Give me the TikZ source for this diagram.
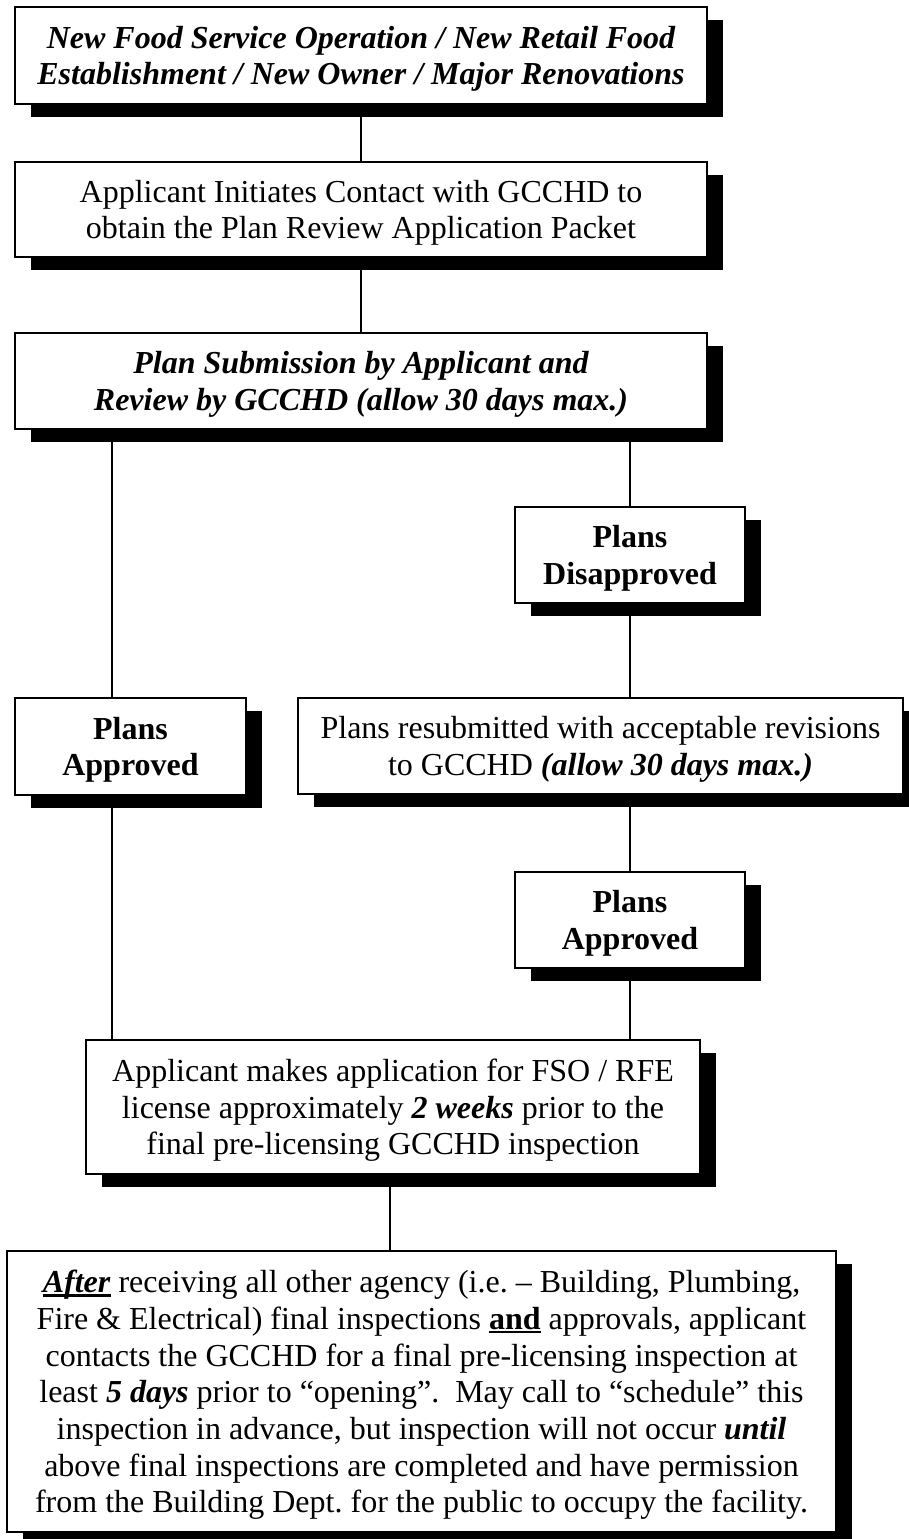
\documentclass[tikz,border=0pt]{standalone}
\usepackage{fontspec}
\setmainfont{Liberation Serif}
\usetikzlibrary{shadows}
\frenchspacing
\newcommand{\bix}[1]{\textbf{\textit{#1}}}
\newcommand{\ulx}[1]{\setbox0\hbox{#1}\rlap{\rule[-4pt]{\wd0}{2.5pt}}\box0{}}
\tikzset{
  box/.style={draw=black, line width=1.5pt, fill=white, align=center, inner sep=0pt,
    text depth=0pt,
    font=\fontsize{32}{36.7}\selectfont,
    drop shadow={shadow xshift=16pt, shadow yshift=-13pt, opacity=1, fill=black}},
  bifont/.style={font=\fontsize{32}{36.7}\selectfont\bfseries\itshape},
  bffont/.style={font=\fontsize{32}{36.7}\selectfont\bfseries},
  conn/.style={line width=2pt}
}
\begin{document}
\begin{tikzpicture}[x=1pt,y=-1pt]
\useasboundingbox (0,0) rectangle (909,1539);
\fill[white] (0,0) rectangle (909,1539);

\node[box, bifont, minimum width=692pt, minimum height=97pt] (top) at (361,55.5)
  {New Food Service Operation / New Retail Food\\Establishment / New Owner / Major Renovations};
\node[box, minimum width=692pt, minimum height=95pt] (contact) at (361,209.5)
  {Applicant Initiates Contact with GCCHD to\\obtain the Plan Review Application Packet};
\node[box, bifont, minimum width=692pt, minimum height=96pt] (submit) at (361,381)
  {Plan Submission by Applicant and\\Review by GCCHD (allow 30 days max.)};
\node[box, bffont, minimum width=230pt, minimum height=96pt] (dis) at (630,555)
  {Plans\\Disapproved};
\node[box, bffont, minimum width=231pt, minimum height=97pt] (paL) at (130.5,746.5)
  {Plans\\Approved};
\node[box, minimum width=605pt, minimum height=96pt] (resub) at (600.5,746)
  {Plans resubmitted with acceptable revisions\\to GCCHD \bix{(allow 30 days max.)}};
\node[box, bffont, minimum width=230pt, minimum height=96pt] (paR) at (630,920)
  {Plans\\Approved};
\node[box, minimum width=614pt, minimum height=134pt] (app) at (393,1107)
  {Applicant makes application for FSO / RFE\\license approximately \bix{2 weeks} prior to the\\final pre-licensing GCCHD inspection};
\node[box, minimum width=829pt, minimum height=281pt] (fin) at (421.5,1391.5)
  {\ulx{\bix{After}} receiving all other agency (i.e. – Building, Plumbing,\\
   Fire \& Electrical) final inspections \ulx{\textbf{and}} approvals, applicant\\
   contacts the GCCHD for a final pre-licensing inspection at\\
   least \bix{5 days} prior to “opening”.\ \ May call to “schedule” this\\
   inspection in advance, but inspection will not occur \bix{until}\\
   above final inspections are completed and have permission\\
   from the Building Dept. for the public to occupy the facility.};

\coordinate (xL) at (112,0);
\coordinate (xR) at (630,0);
\coordinate (xA) at (390,0);

\draw[conn] (top.south) -- (contact.north);
\draw[conn] (contact.south) -- (submit.north);
\draw[conn] (submit.south -| xL) -- (paL.north -| xL);
\draw[conn] (submit.south -| xR) -- (dis.north);
\draw[conn] (dis.south) -- (resub.north -| dis);
\draw[conn] (resub.south -| dis) -- (paR.north);
\draw[conn] (paL.south -| xL) -- (app.north -| xL);
\draw[conn] (paR.south) -- (app.north -| paR);
\draw[conn] (app.south -| xA) -- (fin.north -| xA);
\end{tikzpicture}
\end{document}
